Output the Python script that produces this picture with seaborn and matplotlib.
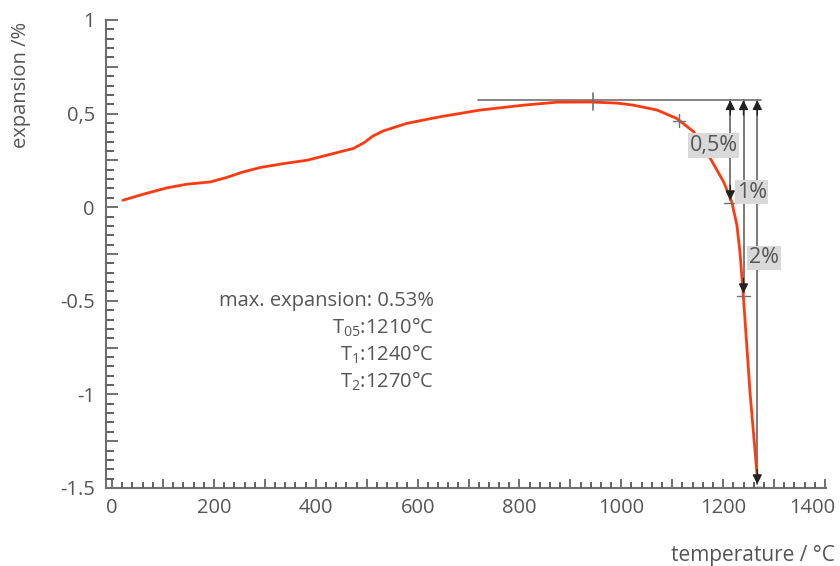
import numpy as np
import pandas as pd
import matplotlib
matplotlib.use("Agg")
import matplotlib.pyplot as plt
import matplotlib.transforms as mtransforms
from matplotlib.ticker import MultipleLocator, FuncFormatter
import seaborn as sns

# ---- data ----
temperature = [21, 62, 107, 147, 193, 225, 258, 291, 337, 383, 422, 448, 474, 495, 512,
               533, 579, 644, 723, 808, 874, 939, 992, 1024, 1070, 1109, 1142, 1175,
               1201, 1217, 1227, 1233, 1239, 1253, 1267]
expansion = [0.037, 0.07, 0.103, 0.123, 0.135, 0.159, 0.189, 0.212, 0.233, 0.251, 0.278,
             0.296, 0.314, 0.345, 0.38, 0.408, 0.448, 0.483, 0.519, 0.545, 0.561, 0.562,
             0.556, 0.545, 0.519, 0.474, 0.403, 0.26, 0.135, 0.028, -0.096, -0.239, -0.45,
             -0.997, -1.44]

max_T, max_E = 945, 0.565
onset_T, onset_E = 1113, 0.462
ref_line_E = 0.572
ref_line_T = [719, 1275]
arrow_T = [1214, 1240, 1267]
arrow_bottom = [0.037, -0.46, -1.48]
arrow_labels = ["0,5%", "1%", "2%"]
label_pos = [(1181, 0.33), (1256, 0.08), (1280, -0.27)]

x_ticks = [0, 200, 400, 600, 800, 1000, 1200, 1400]
y_tick_vals = [1, 0.5, 0, -0.5, -1, -1.5]
y_tick_labels = ["1", "0,5", "0", "-0.5", "-1", "-1.5"]

info_lines = ["max. expansion: 0.53%", r"T$_{05}$:1210°C", r"T$_{1}$:1240°C", r"T$_{2}$:1270°C"]

# ---- style ----
sns.set_style("ticks")
txt = "#555555"
grey = "#707070"
plt.rcParams.update({
    "font.family": ["Open Sans", "DejaVu Sans"],
    "mathtext.default": "regular",
})

fig = plt.figure(figsize=(8.4, 5.66), dpi=100)
ax = fig.add_axes([106 / 840, 1 - 488 / 566, 720 / 840, 468 / 566])

df = pd.DataFrame({"T": temperature, "E": expansion})
sns.lineplot(data=df, x="T", y="E", ax=ax, color="#ff3a10", lw=2.0, zorder=3)

ax.set_xlim(-12, 1402)
ax.set_ylim(-1.5, 1.0)

# reference horizontal line at max expansion
ax.plot(ref_line_T, [ref_line_E, ref_line_E], color=grey, lw=1.2, zorder=2)

# markers
ax.plot([max_T, max_T], [max_E - 0.045, max_E + 0.045], color=grey, lw=1.2, zorder=4)
ax.plot([onset_T - 12, onset_T + 12], [onset_E, onset_E], color=grey, lw=1.0, zorder=4)
ax.plot([onset_T, onset_T], [onset_E - 0.035, onset_E + 0.035], color=grey, lw=1.0, zorder=4)
for t, b in zip(arrow_T, arrow_bottom):
    ax.plot([t - 12, t + 12], [b - 0.015, b - 0.015], color=grey, lw=1.0, zorder=4)

# arrows
for t, b in zip(arrow_T, arrow_bottom):
    ax.plot([t, t], [b, ref_line_E], color=grey, lw=1.3, zorder=2)
    ax.annotate("", xy=(t, ref_line_E), xytext=(t, ref_line_E - 0.08),
                arrowprops=dict(arrowstyle="-|>", color="#222222", lw=1.0,
                                mutation_scale=14, shrinkA=0, shrinkB=0), zorder=5)
    ax.annotate("", xy=(t, b), xytext=(t, b + 0.08),
                arrowprops=dict(arrowstyle="-|>", color="#222222", lw=1.0,
                                mutation_scale=14, shrinkA=0, shrinkB=0), zorder=5)

for lab, (lx, ly) in zip(arrow_labels, label_pos):
    ax.text(lx, ly, lab, ha="center", va="center", fontsize=15.5, color=txt, zorder=6,
            bbox=dict(boxstyle="square,pad=0.08", fc="#d9d9d9", ec="none"))

# info block
for i, line in enumerate(info_lines):
    ax.text(632, -0.50 - i * 0.143, line, ha="right", va="center", fontsize=14.5, color=txt)

# axes styling
for s in ["top", "right"]:
    ax.spines[s].set_visible(False)
for s in ["left", "bottom"]:
    ax.spines[s].set_color(grey)
    ax.spines[s].set_linewidth(1.5)

ax.xaxis.set_major_locator(MultipleLocator(100))
ax.xaxis.set_major_formatter(FuncFormatter(lambda v, p: f"{int(round(v))}" if int(round(v)) in x_ticks else ""))
ax.yaxis.set_major_locator(MultipleLocator(0.25))
lab_map = {round(v, 2): l for v, l in zip(y_tick_vals, y_tick_labels)}
ax.yaxis.set_major_formatter(FuncFormatter(lambda v, p: lab_map.get(round(v, 2), "")))

ax.tick_params(axis="x", which="major", direction="in", length=6.5, width=1.4, colors=grey,
               labelsize=14.5, labelcolor=txt, pad=7)
ax.tick_params(axis="y", which="major", direction="in", length=8.5, width=1.4, colors=grey,
               labelsize=14.5, labelcolor=txt, pad=8)

# small intermediate ticks drawn as short segments on the axis lines
minor_x = [v for v in np.arange(0, 1401, 20) if v % 100 != 0]
minor_y = [v for v in np.round(np.arange(-1.5, 1.0001, 0.05), 2) if abs(v * 4 - round(v * 4)) > 1e-6]
ax.vlines(minor_x, 0, 6 / 468, transform=ax.get_xaxis_transform(), colors="#606060",
          linewidth=1.4, clip_on=False, zorder=6)
ax.hlines(minor_y, 0, 8 / 720, transform=ax.get_yaxis_transform(), colors="#606060",
          linewidth=1.4, clip_on=False, zorder=6)

ax.set_xlabel("")
ax.set_ylabel("")
fig.text(21 / 840, 1 - 85 / 566, "expansion /%", rotation=90, ha="center", va="center",
         fontsize=14.5, color=txt)
fig.text(835 / 840, 1 - 556 / 566, "temperature / °C", ha="right", va="center",
         fontsize=15, color=txt)

fig.canvas.draw()
# keep last x tick label inside the figure
for tl in ax.get_xticklabels():
    if tl.get_text() == "1400":
        tl.set_horizontalalignment("right")
        tl.set_transform(tl.get_transform() + mtransforms.ScaledTranslation(10 / 100, 0, fig.dpi_scale_trans))

fig.savefig("out.png", dpi=100)
